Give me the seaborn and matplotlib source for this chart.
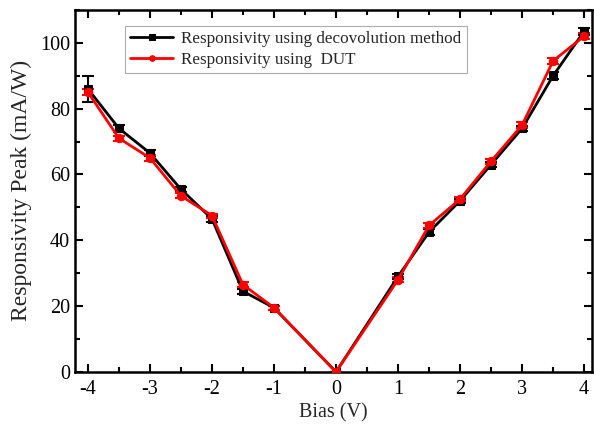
import matplotlib
matplotlib.use("Agg")
import matplotlib.pyplot as plt
from matplotlib.ticker import MultipleLocator
import seaborn as sns
import pandas as pd

bias = [-4, -3.5, -3, -2.5, -2, -1.5, -1, 0, 1, 1.5, 2, 2.5, 3, 3.5, 4]
resp_deconv = [86, 74, 66.5, 55.5, 46.5, 24.5, 19.5, 0, 29, 42.5, 52, 63, 74, 90, 103.5]
err_deconv = [4, 1, 0.8, 0.8, 0.8, 0.8, 0.6, 0, 0.8, 0.8, 0.6, 0.8, 0.8, 1, 1]
resp_dut = [85, 71, 65, 53.5, 47.5, 26.5, 19.5, 0, 28, 44.5, 52.5, 64, 75, 94.5, 102]
err_dut = [1, 0.8, 0.8, 0.8, 0.6, 0.8, 0.6, 0, 0.8, 0.8, 0.6, 0.8, 0.8, 1, 1]

label_deconv = "Responsivity using decovolution method"
label_dut = "Responsivity using  DUT"

df = pd.concat([
    pd.DataFrame({"bias": bias, "resp": resp_deconv, "err": err_deconv, "series": label_deconv}),
    pd.DataFrame({"bias": bias, "resp": resp_dut, "err": err_dut, "series": label_dut}),
])

sns.set_theme(style="ticks")
plt.rcParams["font.family"] = ["Liberation Serif", "DejaVu Serif"]
plt.rcParams["axes.unicode_minus"] = False

fig = plt.figure(figsize=(5.94, 4.28), dpi=100)
ax = fig.add_axes([0.126, 0.131, 0.871, 0.846])

palette = {label_deconv: "black", label_dut: "#ff0000"}
markers = {label_deconv: "s", label_dut: "o"}

for name, sub in df.groupby("series", sort=False):
    ax.errorbar(sub["bias"], sub["resp"], yerr=sub["err"], fmt="none",
                ecolor=palette[name], elinewidth=1.5, capsize=4, capthick=1.5, zorder=2)

sns.lineplot(data=df, x="bias", y="resp", hue="series", style="series",
             palette=palette, markers=markers, dashes=False, markersize=6,
             markeredgecolor=None, linewidth=2, ax=ax, sort=False, zorder=3)

ax.set_xlim(-4.21, 4.13)
ax.set_ylim(0, 110)
ax.xaxis.set_major_locator(MultipleLocator(1))
ax.xaxis.set_minor_locator(MultipleLocator(0.5))
ax.yaxis.set_major_locator(MultipleLocator(20))
ax.yaxis.set_minor_locator(MultipleLocator(10))
ax.tick_params(which="both", direction="in", top=True, right=True, width=1.5,
               labelsize=14.5, colors="black")
ax.tick_params(which="major", length=6)
ax.tick_params(which="minor", length=3.5)
ax.tick_params(axis="x", which="major", pad=6)
for sp in ax.spines.values():
    sp.set_linewidth(1.8)
    sp.set_color("black")

ax.set_xlabel("Bias (V)", fontsize=14.5, labelpad=3)
ax.set_ylabel("Responsivity Peak (mA/W)", fontsize=17, labelpad=6)

leg = ax.legend(loc="upper left", bbox_to_anchor=(0.097, 0.956), borderaxespad=0,
                fontsize=12.3, frameon=True, fancybox=False, edgecolor="#999999",
                handlelength=2.5, handletextpad=0.5, borderpad=0.3, labelspacing=0.3)
leg.get_frame().set_linewidth(0.8)
leg.set_title(None)
for h in leg.get_lines():
    h.set_markersize(4)

fig.savefig("out.png", dpi=100)
